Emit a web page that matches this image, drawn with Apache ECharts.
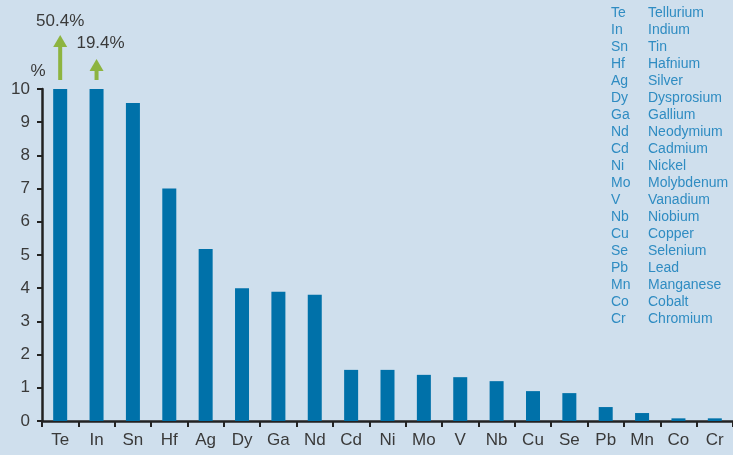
<!DOCTYPE html>
<html>
<head>
<meta charset="utf-8">
<script src="https://cdn.jsdelivr.net/npm/echarts@6/dist/echarts.min.js"></script>
<style>
html,body{margin:0;padding:0;background:#cfdfed;}
#c{width:733px;height:455px;}
</style>
</head>
<body>
<div id="c"></div>
<script>
// ---- data ----
var categories = ['Te','In','Sn','Hf','Ag','Dy','Ga','Nd','Cd','Ni','Mo','V','Nb','Cu','Se','Pb','Mn','Co','Cr'];
var elementNames = ['Tellurium','Indium','Tin','Hafnium','Silver','Dysprosium','Gallium','Neodymium','Cadmium','Nickel','Molybdenum','Vanadium','Niobium','Copper','Selenium','Lead','Manganese','Cobalt','Chromium'];
var values = [50.4, 19.4, 9.58, 7.0, 5.18, 4.0, 3.89, 3.8, 1.54, 1.54, 1.39, 1.32, 1.2, 0.9, 0.84, 0.42, 0.24, 0.08, 0.08];
var yTicks = [0,1,2,3,4,5,6,7,8,9,10];
var yMax = 10;

var txt = '#3a3a3a';
var font = 'Liberation Sans, Helvetica, Arial, sans-serif';
var chart = echarts.init(document.getElementById('c'));
chart.setOption({
  animation: false,
  backgroundColor: '#cfdfed',
  textStyle: {fontFamily: font},
  title: [
    {left: 606, top: 0, text: categories.join('\n'),
     textStyle: {color: '#2f8cc2', fontSize: 14, fontWeight: 'normal', lineHeight: 17, fontFamily: font}},
    {left: 643, top: 0, text: elementNames.join('\n'),
     textStyle: {color: '#2f8cc2', fontSize: 14, fontWeight: 'normal', lineHeight: 17, fontFamily: font}}
  ],
  grid: {left: 42, right: 0, top: 89, bottom: 34, containLabel: false},
  xAxis: {
    type: 'category', data: categories,
    axisLine: {lineStyle: {color: '#222', width: 2.5}},
    axisTick: {show: true, length: 6, lineStyle: {color: '#222', width: 2}},
    axisLabel: {color: txt, fontSize: 17, margin: 11, fontFamily: font}
  },
  yAxis: {
    type: 'value', min: yTicks[0], max: yMax, interval: 1,
    name: '%', nameLocation: 'end', nameGap: 9,
    nameTextStyle: {color: txt, fontSize: 17, align: 'center', padding: [0, 8, 0, 0], fontFamily: font},
    splitLine: {show: false},
    axisLine: {show: true, lineStyle: {color: '#222', width: 2.5}},
    axisTick: {show: true, inside: false, length: 5, lineStyle: {color: '#222', width: 2}},
    axisLabel: {color: txt, fontSize: 17, margin: 12, fontFamily: font}
  },
  series: [{
    type: 'bar', data: values, barWidth: 14, clip: true,
    itemStyle: {color: '#0071a9'}
  }]
});

// arrows for off-scale values
var arrowStyle = {
  Te: {tipAbove: 54, labelDx: 0, labelAbove: 68},
  In: {tipAbove: 30, labelDx: 4, labelAbove: 46}
};
var green = '#8db440';
var graphics = [];
categories.forEach(function (cat, i) {
  if (values[i] <= yMax) return;
  var st = arrowStyle[cat];
  var p = chart.convertToPixel({seriesIndex: 0}, [cat, yMax]);
  var x = p[0], top = p[1] - 9;
  var tip = p[1] - st.tipAbove;
  var base = tip + 12;
  graphics.push({type: 'rect', shape: {x: x - 2, y: base - 1, width: 4, height: top - base + 1}, style: {fill: green}});
  graphics.push({type: 'polygon', shape: {points: [[x, tip], [x - 7, base], [x + 7, base]]}, style: {fill: green}});
  graphics.push({type: 'text', x: x + st.labelDx, y: p[1] - st.labelAbove,
    style: {text: values[i] + '%', fill: txt, fontSize: 17, fontFamily: font, align: 'center', verticalAlign: 'middle'}});
});
chart.setOption({graphic: graphics});
</script>
</body>
</html>
